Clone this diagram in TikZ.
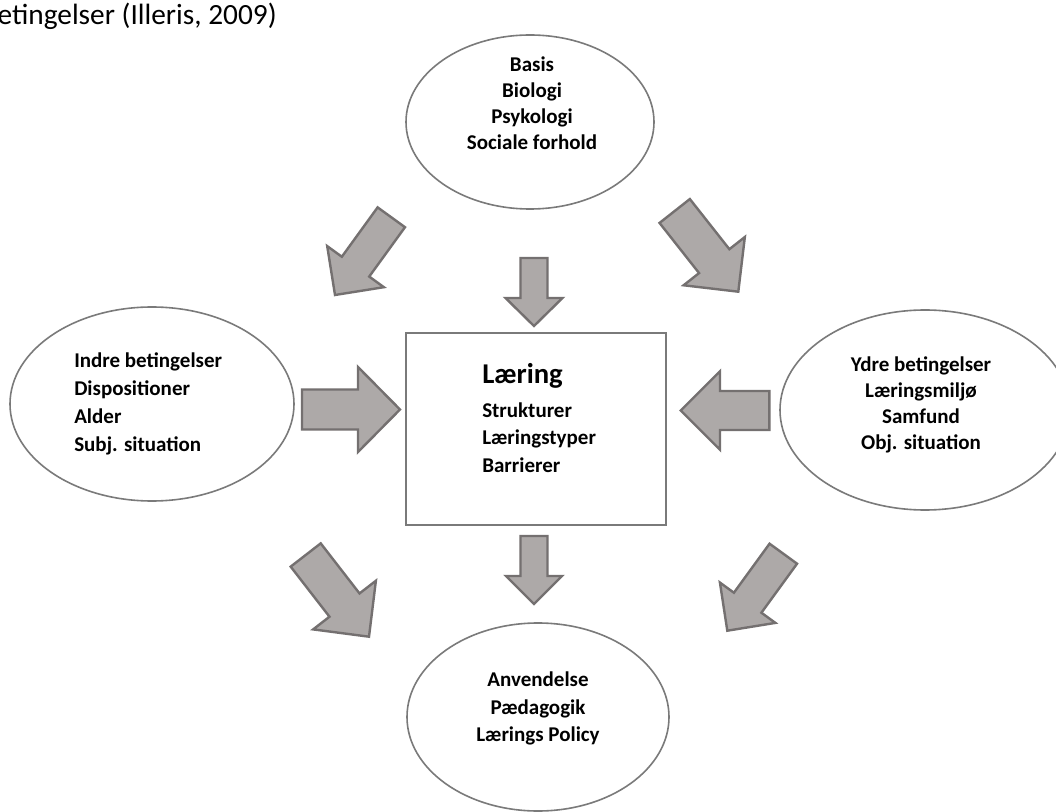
\documentclass[tikz,border=0pt]{standalone}
\usepackage{fontspec}
\setmainfont{Carlito}
\usetikzlibrary{calc,shapes.geometric}

\definecolor{arrowfill}{HTML}{ADA9A8}
\definecolor{arrowline}{HTML}{747070}
\definecolor{shapeline}{HTML}{7A7A7A}

% Block arrow: name, tail centre, tip, half shaft width, half head width, head length (px)
\newcommand\fatarrow[6]{%
  \coordinate (#1-tail) at #2;
  \coordinate (#1-tip) at #3;
  \coordinate (#1-base) at ($(#1-tip)!#6*0.75pt!(#1-tail)$);
  \draw[blockarrow] ($(#1-tail)!#4*0.75pt!90:(#1-tip)$)
    -- ($(#1-base)!#4*0.75pt!-90:(#1-tail)$)
    -- ($(#1-base)!#5*0.75pt!-90:(#1-tail)$)
    -- (#1-tip)
    -- ($(#1-base)!#5*0.75pt!90:(#1-tail)$)
    -- ($(#1-base)!#4*0.75pt!90:(#1-tail)$)
    -- ($(#1-tail)!#4*0.75pt!-90:(#1-tip)$) -- cycle;}

\begin{document}
\begin{tikzpicture}[x=0.75pt,y=-0.75pt,
  blockarrow/.style={fill=arrowfill, draw=arrowline, line width=1.8pt, line join=miter},
  oval/.style={ellipse, draw=shapeline, line width=1.2pt, inner sep=0pt},
  centrebox/.style={rectangle, draw=shapeline, line width=1.2pt, inner sep=0pt},
  lbl/.style={font=\fontsize{15.75}{#1}\selectfont\bfseries, inner sep=0pt},
  bigword/.style={font=\fontsize{21.5}{26}\selectfont\bfseries, inner sep=0pt},
  caption/.style={font=\fontsize{22}{26}\selectfont, inner sep=0pt}]
\useasboundingbox (0,0) rectangle (1056,812);
\clip (0,0) rectangle (1056,812);
\fill[white] (0,0) rectangle (1056,812);

% caption line
\node[caption, anchor=base east] (caption) at (277,25) {etingelser (Illeris, 2009)};

% the five shapes
\node[oval, minimum width=186pt, minimum height=130.5pt] (basis) at (530,122) {};
\node[oval, minimum width=213pt, minimum height=145.5pt] (indre) at (152,404) {};
\node[oval, minimum width=217.5pt, minimum height=150pt] (ydre) at (925,410) {};
\node[oval, minimum width=196.5pt, minimum height=141pt] (anv) at (538,717) {};
\node[centrebox, minimum width=195pt, minimum height=144pt] (laering) at (536,429) {};

% texts (anchored on the baseline of the last line)
\node[lbl=19.5, align=center, anchor=base] (basis-txt) at (532,150)
  {Basis\\Biologi\\Psykologi\\Sociale forhold};
\node[lbl=21, align=left, anchor=base west] (indre-txt) at (74,452)
  {Indre betingelser\\Dispositioner\\Alder\\Subj. situation};
\node[lbl=19.7, align=center, anchor=base] (ydre-txt) at (921,450)
  {Ydre betingelser\\Læringsmiljø\\Samfund\\Obj. situation};
\node[lbl=20.6, align=center, anchor=base] (anv-txt) at (538,741.7)
  {Anvendelse\\Pædagogik\\Lærings Policy};
\node[bigword, anchor=base west] (laering-title) at (482,384) {Læring};
\node[lbl=20.6, align=left, anchor=base west] (laering-txt) at (482,472)
  {Strukturer\\Læringstyper\\Barrierer};

% block arrows
\fatarrow{tl}{(391.3,217.3)}{(335,295)}{16.9}{35}{35}
\fatarrow{tc}{(534,258)}{(534,326)}{13.5}{28.5}{28}
\fatarrow{tr}{(674.7,211)}{(738.3,291.7)}{19.3}{39}{38.9}
\fatarrow{ml}{(302,409.5)}{(400,409.5)}{20}{42.5}{42}
\fatarrow{mr}{(769.3,410.5)}{(680.7,410.5)}{19.5}{39.2}{39.3}
\fatarrow{bl}{(305.7,555)}{(369,636.7)}{19}{39.7}{40}
\fatarrow{bc}{(534,536)}{(534,604)}{13.5}{28}{28}
\fatarrow{br}{(783.3,553.7)}{(727.3,630.7)}{17}{34.3}{34.6}
\end{tikzpicture}
\end{document}
